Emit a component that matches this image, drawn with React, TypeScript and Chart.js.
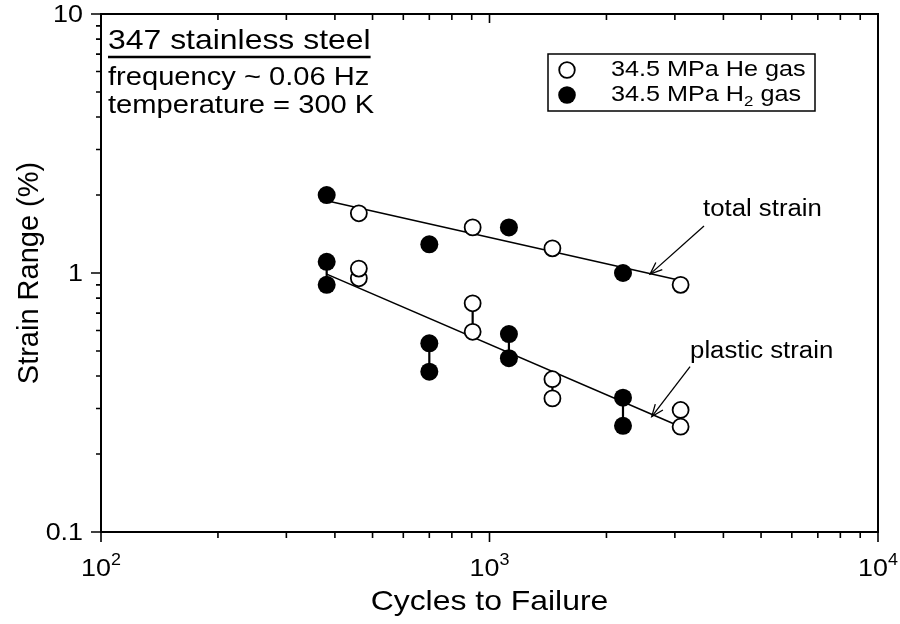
import React, { useEffect, useRef } from "react";
import { Chart, registerables } from "chart.js";

Chart.register(...registerables);

// ---------- data ----------
const heTotalCycles = [461, 905, 1452, 3104];
const heTotalStrain = [1.7, 1.5, 1.245, 0.9];
const h2TotalCycles = [381, 700, 1122, 2206];
const h2TotalStrain = [2.0, 1.29, 1.5, 1.0];

const hePlasticCycles = [461, 905, 1452, 3104];
const hePlasticHigh = [1.04, 0.764, 0.389, 0.296];
const hePlasticLow = [0.954, 0.593, 0.328, 0.255];
const h2PlasticCycles = [381, 700, 1122, 2206];
const h2PlasticHigh = [1.105, 0.535, 0.581, 0.33];
const h2PlasticLow = [0.9, 0.416, 0.469, 0.257];

const totalFitCycles = [381, 3104];
const totalFitStrain = [1.9, 0.936];
const plasticFitCycles = [381, 3104];
const plasticFitStrain = [0.99, 0.255];

const xMin = 100;
const xMax = 10000;
const yMin = 0.1;
const yMax = 10;
const xTickExponents = [2, 3, 4];
const yTickValues = [0.1, 1, 10];
const yTickLabels = ["0.1", "1", "10"];
const minorMultipliers = [2, 3, 4, 5, 6, 7, 8, 9];

const xTitle = "Cycles to Failure";
const yTitle = "Strain Range (%)";
const infoLines = ["347 stainless steel", "frequency ~ 0.06 Hz", "temperature = 300 K"];
const legendHe = "34.5 MPa He gas";
const legendH2 = ["34.5 MPa H", "2", " gas"];

const totalLabel = "total strain";
const plasticLabel = "plastic strain";
// arrow tail / head in data coordinates [cycles, strain]
const totalArrowTail = [3566, 1.52];
const totalArrowHead = [2590, 0.99];
const plasticArrowTail = [3283, 0.435];
const plasticArrowHead = [2616, 0.279];

// ---------- drawing helpers ----------
const FONT = '"Liberation Sans", Arial, Helvetica, sans-serif';
const SX = 1.12; // horizontal text stretch

function measure(ctx: CanvasRenderingContext2D, s: string, size: number, sx = SX) {
  ctx.font = `${size}px ${FONT}`;
  return ctx.measureText(s).width * sx;
}

function text(
  ctx: CanvasRenderingContext2D,
  s: string,
  x: number,
  y: number,
  size: number,
  align: "left" | "right" | "center" = "left",
  baseline: CanvasTextBaseline = "middle",
  sx = SX
) {
  ctx.save();
  ctx.font = `${size}px ${FONT}`;
  ctx.fillStyle = "#000";
  ctx.textBaseline = baseline;
  const w = ctx.measureText(s).width * sx;
  let left = x;
  if (align === "right") left = x - w;
  if (align === "center") left = x - w / 2;
  ctx.translate(left, y);
  ctx.scale(sx, 1);
  ctx.textAlign = "left";
  ctx.fillText(s, 0, 0);
  ctx.restore();
  return w;
}

function arrow(ctx: CanvasRenderingContext2D, x1: number, y1: number, x2: number, y2: number) {
  ctx.save();
  ctx.strokeStyle = "#000";
  ctx.lineWidth = 1.3;
  ctx.beginPath();
  ctx.moveTo(x1, y1);
  ctx.lineTo(x2, y2);
  ctx.stroke();
  const ang = Math.atan2(y2 - y1, x2 - x1);
  const L = 13;
  const a = 0.38;
  ctx.beginPath();
  ctx.moveTo(x2 - L * Math.cos(ang - a), y2 - L * Math.sin(ang - a));
  ctx.lineTo(x2, y2);
  ctx.lineTo(x2 - L * Math.cos(ang + a), y2 - L * Math.sin(ang + a));
  ctx.stroke();
  ctx.restore();
}

const decorPlugin = {
  id: "decor",
  afterDatasetsDraw(chart: any) {
    const ctx: CanvasRenderingContext2D = chart.ctx;
    const { left, right, top, bottom } = chart.chartArea;
    const xs = chart.scales.x;
    const ys = chart.scales.y;
    const X = (v: number) => xs.getPixelForValue(v);
    const Y = (v: number) => ys.getPixelForValue(v);

    ctx.save();
    ctx.strokeStyle = "#000";
    ctx.lineWidth = 2;
    ctx.strokeRect(left, top, right - left, bottom - top);

    // ticks
    ctx.lineWidth = 1.6;
    ctx.beginPath();
    xTickExponents.forEach((e) => {
      const px = X(Math.pow(10, e));
      ctx.moveTo(px, bottom);
      ctx.lineTo(px, bottom + 10);
      ctx.moveTo(px, top);
      ctx.lineTo(px, top + 9);
    });
    xTickExponents.slice(0, -1).forEach((e) => {
      minorMultipliers.forEach((m) => {
        const px = X(m * Math.pow(10, e));
        ctx.moveTo(px, bottom);
        ctx.lineTo(px, bottom + 6);
        ctx.moveTo(px, top);
        ctx.lineTo(px, top + 6);
      });
    });
    yTickValues.forEach((v) => {
      const py = Y(v);
      ctx.moveTo(left - 10, py);
      ctx.lineTo(left, py);
    });
    yTickValues.slice(0, -1).forEach((v) => {
      minorMultipliers.forEach((m) => {
        const py = Y(m * v);
        ctx.moveTo(left - 5, py);
        ctx.lineTo(left, py);
      });
    });
    ctx.stroke();

    // y tick labels
    yTickValues.forEach((v, i) => {
      text(ctx, yTickLabels[i], left - 18, Y(v) + 1, 24, "right", "middle");
    });
    // x tick labels with superscript
    xTickExponents.forEach((e) => {
      const px = X(Math.pow(10, e));
      const w1 = measure(ctx, "10", 24);
      const w2 = measure(ctx, String(e), 16);
      const x0 = px - (w1 + w2) / 2;
      text(ctx, "10", x0, bottom + 44, 24, "left", "alphabetic");
      text(ctx, String(e), x0 + w1, bottom + 33, 16, "left", "alphabetic");
    });

    // axis titles
    text(ctx, xTitle, (left + right) / 2 - 0, bottom + 78, 28.5, "center", "alphabetic");
    ctx.save();
    ctx.translate(38, (top + bottom) / 2);
    ctx.rotate(-Math.PI / 2);
    text(ctx, yTitle, 0, 0, 29, "center", "alphabetic", 1);
    ctx.restore();

    // info text
    const w0 = text(ctx, infoLines[0], left + 7, top + 27, 28.5, "left", "middle");
    ctx.lineWidth = 2.6;
    ctx.beginPath();
    ctx.moveTo(left + 7, top + 43);
    ctx.lineTo(left + 7 + w0, top + 43);
    ctx.stroke();
    text(ctx, infoLines[1], left + 7, top + 64, 26, "left", "middle");
    text(ctx, infoLines[2], left + 7, top + 92, 26, "left", "middle");

    // legend
    const lx = 548, ly = 54, lw = 267, lh = 57;
    ctx.lineWidth = 1.5;
    ctx.strokeRect(lx, ly, lw, lh);
    ctx.lineWidth = 1.8;
    ctx.beginPath();
    ctx.arc(lx + 19, ly + 16, 7.8, 0, Math.PI * 2);
    ctx.fillStyle = "#fff";
    ctx.fill();
    ctx.stroke();
    ctx.beginPath();
    ctx.arc(lx + 19, ly + 41, 8.8, 0, Math.PI * 2);
    ctx.fillStyle = "#000";
    ctx.fill();
    text(ctx, legendHe, lx + 63, ly + 16, 22.5, "left", "middle");
    let cx = lx + 63;
    cx += text(ctx, legendH2[0], cx, ly + 41, 22.5, "left", "middle");
    cx += text(ctx, legendH2[1], cx, ly + 48, 15, "left", "middle");
    text(ctx, legendH2[2], cx, ly + 41, 22.5, "left", "middle");

    // arrows + labels
    arrow(ctx, X(totalArrowTail[0]), Y(totalArrowTail[1]), X(totalArrowHead[0]), Y(totalArrowHead[1]));
    arrow(ctx, X(plasticArrowTail[0]), Y(plasticArrowTail[1]), X(plasticArrowHead[0]), Y(plasticArrowHead[1]));
    text(ctx, totalLabel, X(totalArrowTail[0]) - 1, Y(totalArrowTail[1]) - 16, 23, "left", "middle");
    text(ctx, plasticLabel, X(plasticArrowTail[0]) - 0, Y(plasticArrowTail[1]) - 15, 23, "left", "middle");

    ctx.restore();
  },
};

export default function App() {
  const ref = useRef<HTMLCanvasElement | null>(null);

  useEffect(() => {
    document.body.style.margin = "0";
    const canvas = ref.current;
    if (!canvas) return;

    const pairs = (xs: number[], hi: number[], lo: number[]) =>
      xs.map((x, i) => ({
        type: "scatter" as const,
        data: [
          { x, y: hi[i] },
          { x, y: lo[i] },
        ],
        showLine: true,
        borderColor: "#000",
        borderWidth: 2.2,
        pointRadius: 0,
        order: 5,
      }));

    const openPts = (xs: number[], ys: number[]) => ({
      type: "scatter" as const,
      data: xs.map((x, i) => ({ x, y: ys[i] })),
      pointRadius: 8,
      pointBorderWidth: 1.8,
      pointBackgroundColor: "#fff",
      pointBorderColor: "#000",
      showLine: false,
      order: 1,
    });
    const filledPts = (xs: number[], ys: number[]) => ({
      type: "scatter" as const,
      data: xs.map((x, i) => ({ x, y: ys[i] })),
      pointRadius: 9,
      pointBorderWidth: 0,
      pointBackgroundColor: "#000",
      pointBorderColor: "#000",
      showLine: false,
      order: 1,
    });
    const fit = (xs: number[], ys: number[]) => ({
      type: "scatter" as const,
      data: xs.map((x, i) => ({ x, y: ys[i] })),
      showLine: true,
      borderColor: "#000",
      borderWidth: 1.6,
      pointRadius: 0,
      order: 6,
    });

    const datasets: any[] = [
      openPts(heTotalCycles, heTotalStrain),
      filledPts(h2TotalCycles, h2TotalStrain),
      openPts(hePlasticCycles, hePlasticHigh),
      openPts(hePlasticCycles, hePlasticLow),
      filledPts(h2PlasticCycles, h2PlasticHigh),
      filledPts(h2PlasticCycles, h2PlasticLow),
      ...pairs(hePlasticCycles, hePlasticHigh, hePlasticLow),
      ...pairs(h2PlasticCycles, h2PlasticHigh, h2PlasticLow),
      fit(totalFitCycles, totalFitStrain),
      fit(plasticFitCycles, plasticFitStrain),
    ];

    const chart = new Chart(canvas, {
      type: "scatter",
      data: { datasets },
      options: {
        responsive: false,
        animation: false,
        events: [],
        layout: { padding: { left: 101, right: 22, top: 14, bottom: 92 } },
        plugins: { legend: { display: false }, tooltip: { enabled: false } },
        scales: {
          x: { type: "logarithmic", min: xMin, max: xMax, display: false },
          y: { type: "logarithmic", min: yMin, max: yMax, display: false },
        },
      },
      plugins: [decorPlugin],
    });
    return () => chart.destroy();
  }, []);

  return (
    <div style={{ width: 900, height: 624, background: "#fff" }}>
      <canvas ref={ref} width={900} height={624} style={{ display: "block" }} />
    </div>
  );
}
